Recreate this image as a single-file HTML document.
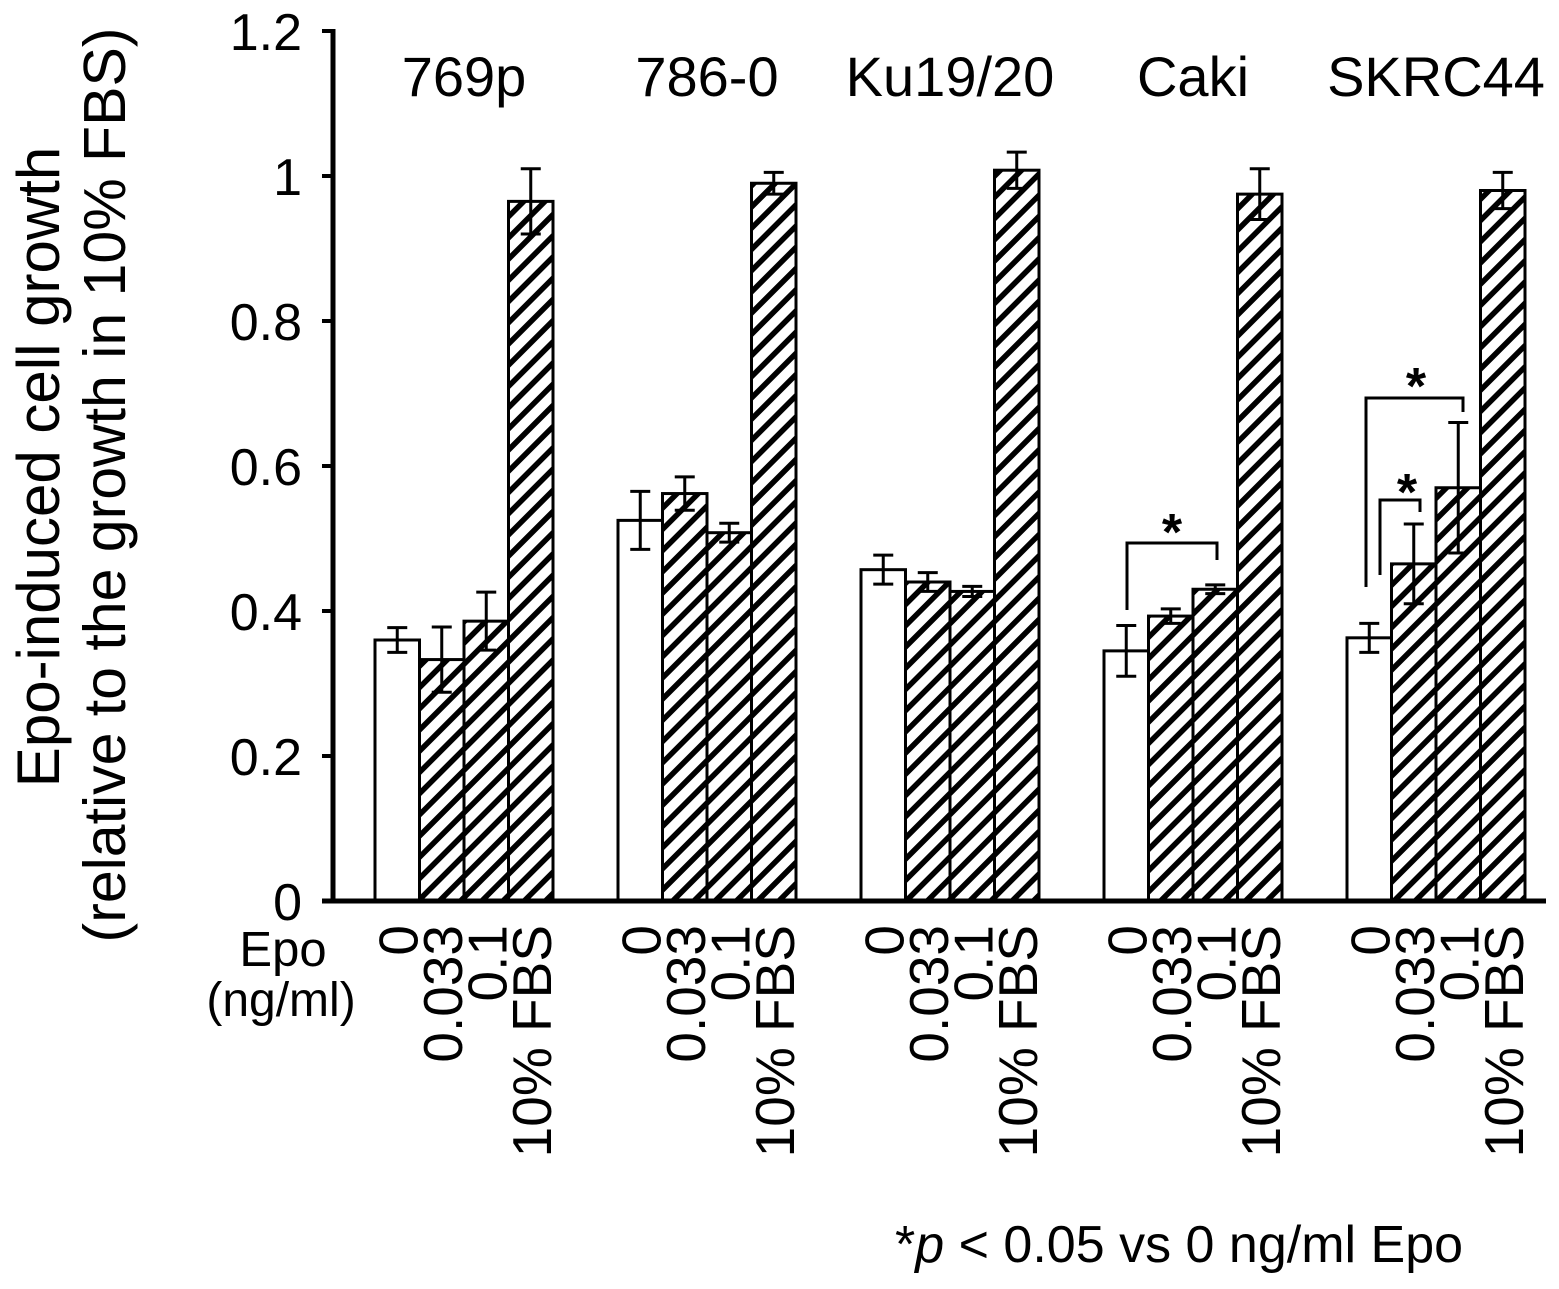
<!DOCTYPE html>
<html><head><meta charset="utf-8"><style>
body{margin:0;background:#fff}
svg text{font-family:"Liberation Sans",Arial,sans-serif;fill:#000}
</style></head><body>
<svg id="chart" width="1559" height="1284" viewBox="0 0 1559 1284">
<defs>
<pattern id="hatch" patternUnits="userSpaceOnUse" width="15" height="15" patternTransform="rotate(45)">
<rect width="15" height="15" fill="#fff"/><rect x="0" y="0" width="5.5" height="15" fill="#000"/>
</pattern>
</defs>
<g id="bars"></g>
<g id="axes"></g>
<g id="labels"></g>
<text transform="translate(59,467) rotate(-90)" font-size="60" text-anchor="middle">Epo-induced cell growth</text>
<text transform="translate(125,485) rotate(-90)" font-size="59" text-anchor="middle">(relative to the growth in 10% FBS)</text>
<text x="283" y="966" font-size="49" text-anchor="middle">Epo</text>
<text x="281" y="1016" font-size="48" text-anchor="middle">(ng/ml)</text>
<text x="895" y="1262" font-size="52">*<tspan font-style="italic">p</tspan> &lt; 0.05 vs 0 ng/ml Epo</text>
</svg>
<script>
const groups = ["769p","786-0","Ku19/20","Caki","SKRC44"];
const conditions = ["0","0.033","0.1","10% FBS"];
const values = [
 [0.36,0.333,0.386,0.965],
 [0.525,0.562,0.508,0.99],
 [0.457,0.44,0.427,1.008],
 [0.345,0.393,0.43,0.975],
 [0.363,0.465,0.57,0.98]
];
const errors = [
 [0.017,0.045,0.04,0.045],
 [0.04,0.023,0.013,0.015],
 [0.02,0.013,0.007,0.025],
 [0.035,0.01,0.006,0.035],
 [0.02,0.055,0.09,0.025]
];
const yTicks = [0,0.2,0.4,0.6,0.8,1,1.2];
const yTickLabels = ["0","0.2","0.4","0.6","0.8","1","1.2"];

const NS="http://www.w3.org/2000/svg";
const y = v => 901 - v*725;
const barW = 44.5;
const x = (g,c) => 375 + g*243 + c*barW;
function mk(tag, attrs, parent){const e=document.createElementNS(NS,tag);for(const k in attrs)e.setAttribute(k,attrs[k]);parent.appendChild(e);return e;}
const bars=document.getElementById('bars'), axes=document.getElementById('axes'), labels=document.getElementById('labels');

groups.forEach((gname,g)=>{
  const t=mk('text',{x:x(g,0)+2*barW,y:96,'font-size':56,'text-anchor':'middle'},labels);
  t.textContent=gname;
  
  
  conditions.forEach((cname,c)=>{
    const v=values[g][c], e=errors[g][c], bx=x(g,c);
    const r=mk('rect',{x:bx,y:y(v),width:barW,height:y(0)-y(v),fill:c===0?'#fff':'url(#hatch)',stroke:'#000','stroke-width':3},bars);
    
    
    const cx=bx+barW/2;
    const eb=mk('path',{d:`M${cx},${y(v+e)}V${y(v-e)}M${cx-10},${y(v+e)}H${cx+10}M${cx-10},${y(v-e)}H${cx+10}`,stroke:'#000','stroke-width':3,fill:'none'},bars);
    
    
    const lt=mk('text',{transform:`translate(${cx+20},925) rotate(-90)`,'font-size':55,'text-anchor':'end'},labels);
    lt.textContent=cname;
    
    
  });
});
mk('line',{x1:333,y1:29,x2:333,y2:903,stroke:'#000','stroke-width':5},axes);
mk('line',{x1:322,y1:901,x2:1546,y2:901,stroke:'#000','stroke-width':5},axes);
yTicks.forEach((t,i)=>{
  mk('line',{x1:322,y1:y(t),x2:333,y2:y(t),stroke:'#000','stroke-width':4},axes);
  const tt=mk('text',{x:302,y:y(t)+19,'font-size':52,'text-anchor':'end'},labels);
  tt.textContent=yTickLabels[i];
  
  
});
const br=["M1127,610V543H1217V560","M1366,587V398H1463V412","M1380,575V500H1420V512"];
br.forEach((d,i)=>{const p=mk('path',{d:d,stroke:'#000','stroke-width':3,fill:'none'},axes);
 
 });
[[1172,550],[1416,404],[1407,510]].forEach((p,i)=>{const s=mk('text',{x:p[0],y:p[1],'font-size':52,'text-anchor':'middle','font-weight':'bold'},labels);s.textContent='*';
 
 });
</script>
</body></html>
